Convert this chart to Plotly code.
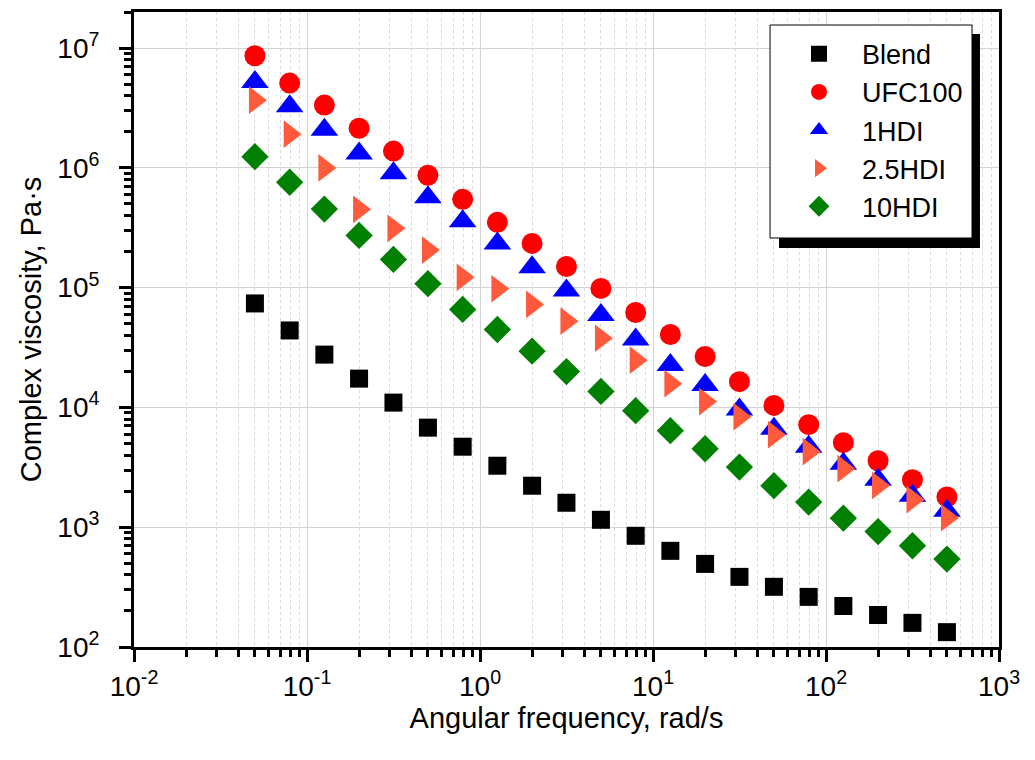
import plotly.graph_objects as go

# Angular frequency, rad/s
freq = [0.05, 0.0794, 0.126, 0.2, 0.316, 0.5, 0.794, 1.26, 2.0, 3.16, 5.0,
        7.94, 12.6, 20.0, 31.6, 50.0, 79.4, 126, 200, 316, 500]

# Complex viscosity, Pa·s
blend = [73800, 43900, 27600, 17400, 10970, 6780, 4700, 3260, 2220, 1600, 1153,
         848, 635, 494, 385, 318, 262, 220, 185, 159, 133]
ufc100 = [8.63e6, 5.10e6, 3.34e6, 2.14e6, 1.38e6, 8.67e5, 5.46e5, 3.51e5, 2.34e5,
          1.50e5, 9.85e4, 6.20e4, 4.06e4, 2.66e4, 1.64e4, 1.04e4, 7180, 5080,
          3590, 2490, 1790]
hdi1 = [5.20e6, 3.27e6, 2.08e6, 1.32e6, 9.0e5, 5.68e5, 3.58e5, 2.34e5, 1.48e5,
        9.48e4, 5.91e4, 3.69e4, 2.26e4, 1.54e4, 9590, 6650, 4700, 3390, 2490,
        1830, 1370]
hdi25 = [3.67e6, 1.91e6, 9.98e5, 4.51e5, 3.13e5, 2.06e5, 1.22e5, 9.79e4, 7.24e4,
         5.25e4, 3.78e4, 2.48e4, 1.58e4, 1.12e4, 8370, 5920, 4270, 3080, 2230,
         1700, 1200]
hdi10 = [1.24e6, 7.58e5, 4.53e5, 2.73e5, 1.72e5, 1.08e5, 6.58e4, 4.47e4, 2.95e4,
         1.99e4, 1.36e4, 9400, 6390, 4520, 3180, 2220, 1620, 1190, 920, 700, 542]

series_names = ["Blend", "UFC100", "1HDI", "2.5HDI", "10HDI"]
series_values = [blend, ufc100, hdi1, hdi25, hdi10]
series_symbols = ["square", "circle", "triangle-up", "triangle-right", "diamond"]
series_colors = ["#000000", "#FF0000", "#0000FF", "#FF5A3C", "#008000"]
series_sizes = [18, 21, 24, 24, 21]

x_tickvals = [0.01, 0.1, 1, 10, 100, 1000]
x_ticktext = ["10<sup>-2</sup>", "10<sup>-1</sup>", "10<sup>0</sup>",
              "10<sup>1</sup>", "10<sup>2</sup>", "10<sup>3</sup>"]
y_tickvals = [1e2, 1e3, 1e4, 1e5, 1e6, 1e7]
y_ticktext = ["10<sup>2</sup>", "10<sup>3</sup>", "10<sup>4</sup>",
              "10<sup>5</sup>", "10<sup>6</sup>", "10<sup>7</sup>"]

FONT = "Liberation Sans, Arial, sans-serif"

fig = go.Figure()
for name, vals, sym, col, sz in zip(series_names, series_values, series_symbols,
                                    series_colors, series_sizes):
    fig.add_trace(go.Scatter(
        x=freq, y=vals, mode="markers", name=name,
        marker=dict(symbol=sym, color=col, size=sz, line=dict(width=0)),
    ))

# legend frame with drop shadow (paper coordinates)
fig.add_shape(type="rect", xref="paper", yref="paper",
              x0=0.7457, x1=0.978, y0=0.6283, y1=0.9654,
              fillcolor="black", line=dict(width=0), layer="above")
fig.add_shape(type="rect", xref="paper", yref="paper",
              x0=0.7353, x1=0.9688, y0=0.6441, y1=0.9795,
              fillcolor="white", line=dict(color="black", width=1), layer="above")

axis_common = dict(
    type="log", automargin=False,
    showline=True, linecolor="black", linewidth=3, mirror=True,
    ticks="outside", ticklen=12, tickwidth=3, tickcolor="black",
    showgrid=True, gridcolor="#D3D3D3", gridwidth=1,
    zeroline=False,
    tickfont=dict(family=FONT, size=28, color="black"),
)

fig.update_xaxes(
    **axis_common,
    range=[-2, 3],
    tickmode="array", tickvals=x_tickvals, ticktext=x_ticktext,
    minor=dict(dtick="D1", ticks="outside", ticklen=7, tickwidth=2.5,
               tickcolor="black", showgrid=True, gridcolor="#D9D9D9",
               griddash="dot", gridwidth=1),
    title=dict(text="Angular frequency, rad/s",
               font=dict(family=FONT, size=29, color="black"), standoff=6),
)
fig.update_yaxes(
    **axis_common,
    range=[2, 7.301],
    tickmode="array", tickvals=y_tickvals, ticktext=y_ticktext,
    ticklabelstandoff=14,
    minor=dict(dtick="D1", ticks="outside", ticklen=7, tickwidth=2.5,
               tickcolor="black", showgrid=False),
    title=dict(text="Complex viscosity, Pa·s",
               font=dict(family=FONT, size=29, color="black"), standoff=8),
)

fig.update_layout(
    width=1019, height=744,
    margin=dict(l=126, r=28, t=4, b=105, autoexpand=False),
    paper_bgcolor="white", plot_bgcolor="white",
    font=dict(family=FONT, color="black"),
    showlegend=True,
    legend=dict(
        x=0.7422, y=0.972, xanchor="left", yanchor="top",
        bgcolor="rgba(0,0,0,0)", borderwidth=0,
        font=dict(family=FONT, size=27, color="black"),
        itemwidth=76, tracegroupgap=0,
    ),
)

fig.write_html("out.html")
